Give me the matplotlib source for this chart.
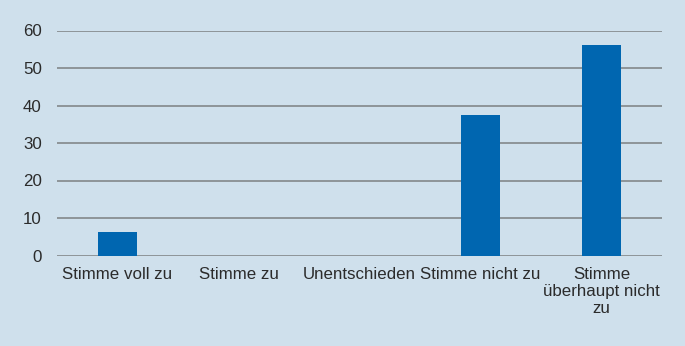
import matplotlib.pyplot as plt

categories = ["Stimme voll zu", "Stimme zu", "Unentschieden", "Stimme nicht zu",
              "Stimme\nüberhaupt nicht\nzu"]
values = [6.25, 0, 0, 37.5, 56.25]
yticks = [0, 10, 20, 30, 40, 50, 60]

bg = "#cfe0ec"
plt.rcParams["font.family"] = ["Liberation Sans", "DejaVu Sans"]

fig = plt.figure(figsize=(6.85, 3.46), dpi=100, facecolor=bg)
ax = fig.add_axes([57 / 685, 1 - 255.5 / 346, 605 / 685, 225 / 346])
ax.set_facecolor(bg)

x = range(len(categories))
ax.bar(x, values, width=0.315, color="#0066b0", zorder=3)

ax.set_xlim(-0.5, len(categories) - 0.5)
ax.set_ylim(0, 60)
ax.set_yticks(yticks)
ax.set_xticks(list(x))
ax.set_xticklabels(categories, fontsize=12.2, color="#2b2b2b", linespacing=1.2)
ax.tick_params(axis="y", labelsize=12.2, labelcolor="#2b2b2b", length=0, pad=11)
ax.tick_params(axis="x", length=0, pad=8)
ax.yaxis.grid(True, color="#8e9498", linewidth=1.4, zorder=0)
ax.set_axisbelow(True)
for s in ax.spines.values():
    s.set_visible(False)

plt.savefig("out.png", dpi=100, facecolor=bg)
plt.close()
